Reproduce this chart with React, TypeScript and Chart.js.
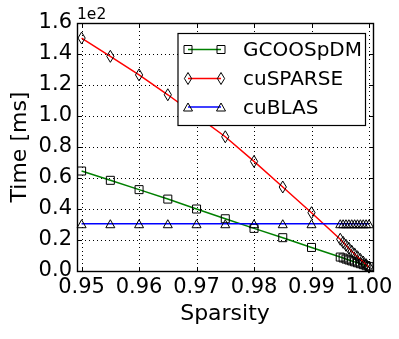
import React, { useEffect, useRef } from "react";
import { Chart, registerables } from "chart.js";
Chart.register(...registerables);

const FONT = "DejaVu Sans";

const sparsity = [0.95, 0.955, 0.96, 0.965, 0.97, 0.975, 0.98, 0.985, 0.99, 0.995, 0.9955, 0.996, 0.9965, 0.997, 0.9975, 0.998, 0.9985, 0.999, 0.9995, 1.0];
const gcooTimes = [64.5, 58.5, 52.5, 46.4, 40.0, 33.7, 27.5, 21.5, 15.2, 9.0, 8.4, 7.7, 7.1, 6.5, 5.9, 5.3, 4.7, 4.1, 3.4, 2.8];
const cusparseTimes = [150.3, 138.5, 126.5, 113.7, 100.2, 86.6, 70.7, 54.2, 37.6, 20.5, 18.5, 16.6, 14.7, 12.8, 11.0, 9.2, 7.5, 5.8, 4.1, 2.5];
const cublasTimes = [30.5, 30.5, 30.5, 30.5, 30.5, 30.5, 30.5, 30.5, 30.5, 30.5, 30.5, 30.5, 30.5, 30.5, 30.5, 30.5, 30.5, 30.5, 30.5, 30.5];
const seriesNames = ["GCOOSpDM", "cuSPARSE", "cuBLAS"];
const seriesColors = ["#008000", "#ff0000", "#0000ff"];
const seriesMarkers = ["square", "diamond", "triangle"];
const xTicks = [0.95, 0.96, 0.97, 0.98, 0.99, 1.0];
const yTicks = [0, 20, 40, 60, 80, 100, 120, 140, 160];

function drawMarker(ctx: CanvasRenderingContext2D, kind: string, x: number, y: number) {
  ctx.save();
  ctx.strokeStyle = "#000";
  ctx.lineWidth = 1;
  ctx.setLineDash([]);
  ctx.beginPath();
  if (kind === "square") {
    ctx.rect(x - 4, y - 4, 8, 8);
  } else if (kind === "diamond") {
    ctx.moveTo(x, y - 6);
    ctx.lineTo(x + 3.6, y);
    ctx.lineTo(x, y + 6);
    ctx.lineTo(x - 3.6, y);
    ctx.closePath();
  } else {
    ctx.moveTo(x, y - 4);
    ctx.lineTo(x + 4.5, y + 4);
    ctx.lineTo(x - 4.5, y + 4);
    ctx.closePath();
  }
  ctx.stroke();
  ctx.restore();
}

export default function App() {
  const ref = useRef<HTMLCanvasElement>(null);
  useEffect(() => {
    document.body.style.margin = "0";
    const seriesValues = [gcooTimes, cusparseTimes, cublasTimes];

    const framePlugin = {
      id: "mplFrame",
      beforeDatasetsDraw(chart: any) {
        const { ctx, chartArea: a, scales } = chart;
        ctx.save();
        ctx.strokeStyle = "#000";
        ctx.lineWidth = 1;
        ctx.setLineDash([1, 3]);
        xTicks.forEach((v) => {
          const px = Math.round(scales.x.getPixelForValue(v)) + 0.5;
          ctx.beginPath(); ctx.moveTo(px, a.top); ctx.lineTo(px, a.bottom); ctx.stroke();
        });
        yTicks.forEach((v) => {
          const py = Math.round(scales.y.getPixelForValue(v)) + 0.5;
          ctx.beginPath(); ctx.moveTo(a.left, py); ctx.lineTo(a.right, py); ctx.stroke();
        });
        ctx.restore();
      },
      afterDatasetDraw(chart: any, args: any) {
        const { ctx } = chart;
        const kind = seriesMarkers[args.index];
        args.meta.data.forEach((pt: any) => drawMarker(ctx, kind, pt.x, pt.y));
      },
      afterDatasetsDraw(chart: any) {
        const { ctx } = chart;
        ctx.save();
        const lx0 = 178, ly0 = 33.5, lx1 = 365.5, ly1 = 125.5;
        ctx.fillStyle = "#fff";
        ctx.fillRect(lx0, ly0, lx1 - lx0, ly1 - ly0);
        ctx.strokeStyle = "#000"; ctx.lineWidth = 1.2;
        ctx.strokeRect(lx0, ly0, lx1 - lx0, ly1 - ly0);
        const rows = [49.5, 78.5, 107];
        seriesNames.forEach((name, i) => {
          const y = rows[i];
          ctx.strokeStyle = seriesColors[i]; ctx.lineWidth = 1.5;
          ctx.beginPath(); ctx.moveTo(188, y); ctx.lineTo(221, y); ctx.stroke();
          drawMarker(ctx, seriesMarkers[i], 188, y);
          drawMarker(ctx, seriesMarkers[i], 221, y);
          ctx.fillStyle = "#000";
          ctx.font = `20px "${FONT}"`;
          ctx.textAlign = "left"; ctx.textBaseline = "alphabetic";
          ctx.fillText(name, 243, y + 6.5);
        });
        ctx.restore();
      },
      afterDraw(chart: any) {
        const { ctx, chartArea: a, scales } = chart;
        ctx.save();
        ctx.strokeStyle = "#000"; ctx.lineWidth = 1.4;
        ctx.strokeRect(Math.round(a.left) + 0.5, Math.round(a.top) + 0.5, Math.round(a.right - a.left), Math.round(a.bottom - a.top));
        ctx.lineWidth = 1;
        const tl = 4;
        xTicks.forEach((v) => {
          const px = Math.round(scales.x.getPixelForValue(v)) + 0.5;
          ctx.beginPath();
          ctx.moveTo(px, a.bottom); ctx.lineTo(px, a.bottom - tl);
          ctx.moveTo(px, a.top); ctx.lineTo(px, a.top + tl);
          ctx.stroke();
        });
        yTicks.forEach((v) => {
          const py = Math.round(scales.y.getPixelForValue(v)) + 0.5;
          ctx.beginPath();
          ctx.moveTo(a.left, py); ctx.lineTo(a.left + tl, py);
          ctx.moveTo(a.right, py); ctx.lineTo(a.right - tl, py);
          ctx.stroke();
        });
        ctx.fillStyle = "#000";
        ctx.font = `15.5px "${FONT}"`;
        ctx.textAlign = "left"; ctx.textBaseline = "alphabetic";
        ctx.fillText("1e2", 77, 19);
        ctx.restore();
      },
    };

    const chart = new Chart(ref.current!, {
      type: "line",
      data: {
        datasets: seriesNames.map((name, i) => ({
          label: name,
          data: sparsity.map((x, k) => ({ x, y: seriesValues[i][k] })),
          borderColor: seriesColors[i],
          borderWidth: 1.5,
          tension: 0,
          fill: false,
          pointRadius: 0,
          pointHoverRadius: 0,
          order: 2 - i,
        })),
      },
      options: {
        responsive: false,
        animation: false,
        devicePixelRatio: 1,
        layout: { padding: { top: 23, right: 26, left: 0, bottom: 0 } },
        plugins: { legend: { display: false }, tooltip: { enabled: false } },
        events: [],
        scales: {
          x: {
            type: "linear",
            min: 0.9492,
            max: 1.0007,
            afterBuildTicks: (s: any) => { s.ticks = xTicks.map((v) => ({ value: v })); },
            afterFit: (s: any) => { s.height = 68; },
            ticks: {
              autoSkip: false, maxRotation: 0, minRotation: 0, padding: 4, color: "#000",
              font: { family: FONT, size: 21 },
              callback: (v: any) => Number(v).toFixed(2),
            },
            grid: { display: false, drawTicks: false },
            border: { display: false },
            title: { display: true, text: "Sparsity", color: "#000", font: { family: FONT, size: 22 }, padding: { top: 0, bottom: 12 } },
          },
          y: {
            type: "linear",
            min: 0,
            max: 160,
            afterBuildTicks: (s: any) => { s.ticks = yTicks.map((v) => ({ value: v })); },
            afterFit: (s: any) => { s.width = 77; },
            ticks: {
              padding: 5, color: "#000",
              font: { family: FONT, size: 21 },
              callback: (v: any) => (Number(v) / 100).toFixed(1),
            },
            grid: { display: false, drawTicks: false },
            border: { display: false },
            title: { display: true, text: "Time [ms]", color: "#000", font: { family: FONT, size: 22 }, padding: { top: 7, bottom: 0 } },
          },
        },
      },
      plugins: [framePlugin],
    } as any);
    return () => chart.destroy();
  }, []);
  return (
    <div style={{ position: "fixed", left: 0, top: 0, width: 399, height: 339 }}>
      <canvas ref={ref} width={399} height={339} />
    </div>
  );
}
